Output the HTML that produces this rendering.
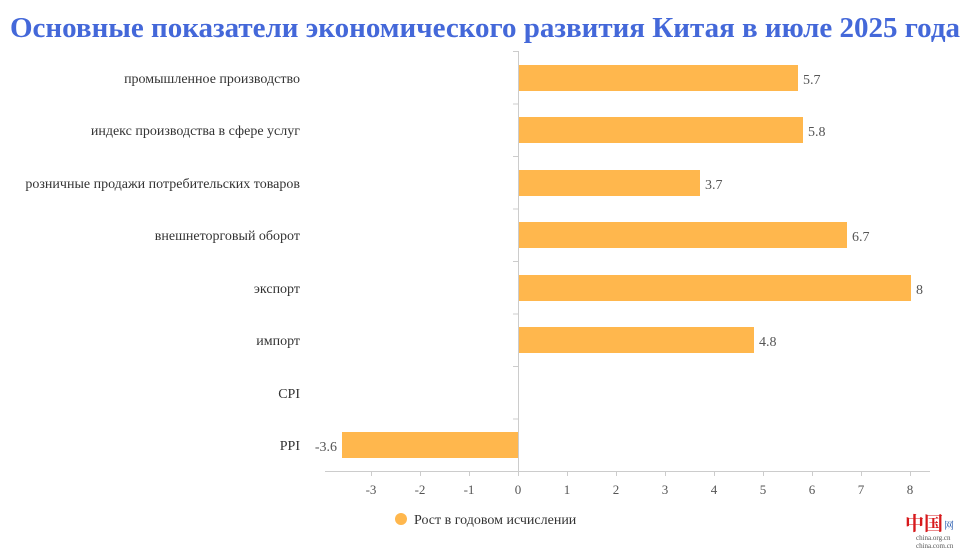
<!DOCTYPE html>
<html><head><meta charset="utf-8"><style>
body{margin:0;background:#fff;width:974px;height:553px;overflow:hidden}
svg text{font-family:"Liberation Serif","Noto Serif CJK SC",serif}
</style></head><body>
<svg width="974" height="553" xmlns="http://www.w3.org/2000/svg">
<text x="485" y="37" text-anchor="middle" font-size="29" font-weight="bold" fill="#4468d9" textLength="950" lengthAdjust="spacingAndGlyphs">Основные показатели экономического развития Китая в июле 2025 года</text>
<g stroke="#ccc" stroke-width="1">
<line x1="518.5" y1="51" x2="518.5" y2="471"/>
<line x1="325" y1="471.5" x2="930" y2="471.5"/>
<line x1="513" y1="51.5" x2="518" y2="51.5"/>
<line x1="513" y1="104" x2="518" y2="104"/>
<line x1="513" y1="156.5" x2="518" y2="156.5"/>
<line x1="513" y1="209" x2="518" y2="209"/>
<line x1="513" y1="261.5" x2="518" y2="261.5"/>
<line x1="513" y1="314" x2="518" y2="314"/>
<line x1="513" y1="366.5" x2="518" y2="366.5"/>
<line x1="513" y1="419" x2="518" y2="419"/>
<line x1="371.5" y1="471" x2="371.5" y2="476"/>
<line x1="420.5" y1="471" x2="420.5" y2="476"/>
<line x1="469.5" y1="471" x2="469.5" y2="476"/>
<line x1="518.5" y1="471" x2="518.5" y2="476"/>
<line x1="567.5" y1="471" x2="567.5" y2="476"/>
<line x1="616.5" y1="471" x2="616.5" y2="476"/>
<line x1="665.5" y1="471" x2="665.5" y2="476"/>
<line x1="714.5" y1="471" x2="714.5" y2="476"/>
<line x1="763.5" y1="471" x2="763.5" y2="476"/>
<line x1="812.5" y1="471" x2="812.5" y2="476"/>
<line x1="861.5" y1="471" x2="861.5" y2="476"/>
<line x1="910.5" y1="471" x2="910.5" y2="476"/>
</g>
<g fill="#ffb74d">
<rect x="519" y="65" width="279" height="26"/>
<rect x="519" y="117" width="284" height="26"/>
<rect x="519" y="170" width="181" height="26"/>
<rect x="519" y="222" width="328" height="26"/>
<rect x="519" y="275" width="392" height="26"/>
<rect x="519" y="327" width="235" height="26"/>
<rect x="342" y="432" width="176" height="26"/>
</g>
<g font-size="14" fill="#333" text-anchor="end">
<text x="300" y="83">промышленное производство</text>
<text x="300" y="135">индекс производства в сфере услуг</text>
<text x="300" y="188">розничные продажи потребительских товаров</text>
<text x="300" y="240">внешнеторговый оборот</text>
<text x="300" y="293">экспорт</text>
<text x="300" y="345">импорт</text>
<text x="300" y="398">CPI</text>
<text x="300" y="450">PPI</text>
</g>
<g font-size="14" fill="#555">
<text x="803" y="84">5.7</text>
<text x="808" y="136">5.8</text>
<text x="705" y="189">3.7</text>
<text x="852" y="241">6.7</text>
<text x="916" y="294">8</text>
<text x="759" y="346">4.8</text>
<text x="337" y="451" text-anchor="end">-3.6</text>
</g>
<g font-size="13" fill="#555" text-anchor="middle">
<text x="371" y="494">-3</text><text x="420" y="494">-2</text><text x="469" y="494">-1</text>
<text x="518" y="494">0</text><text x="567" y="494">1</text><text x="616" y="494">2</text>
<text x="665" y="494">3</text><text x="714" y="494">4</text><text x="763" y="494">5</text>
<text x="812" y="494">6</text><text x="861" y="494">7</text><text x="910" y="494">8</text>
</g>
<circle cx="401" cy="519" r="6" fill="#ffb74d"/>
<text x="414" y="524" font-size="14" fill="#333">Рост в годовом исчислении</text>
<text x="905" y="530" font-size="19" font-weight="bold" fill="#d7191c">中国</text>
<text x="944" y="529" font-size="10" fill="#2a5db0">网</text>
<text x="916" y="540" font-size="7" fill="#555" font-family="Liberation Sans,sans-serif">china.org.cn</text>
<text x="916" y="548" font-size="7" fill="#555" font-family="Liberation Sans,sans-serif">china.com.cn</text>
</svg>
</body></html>
